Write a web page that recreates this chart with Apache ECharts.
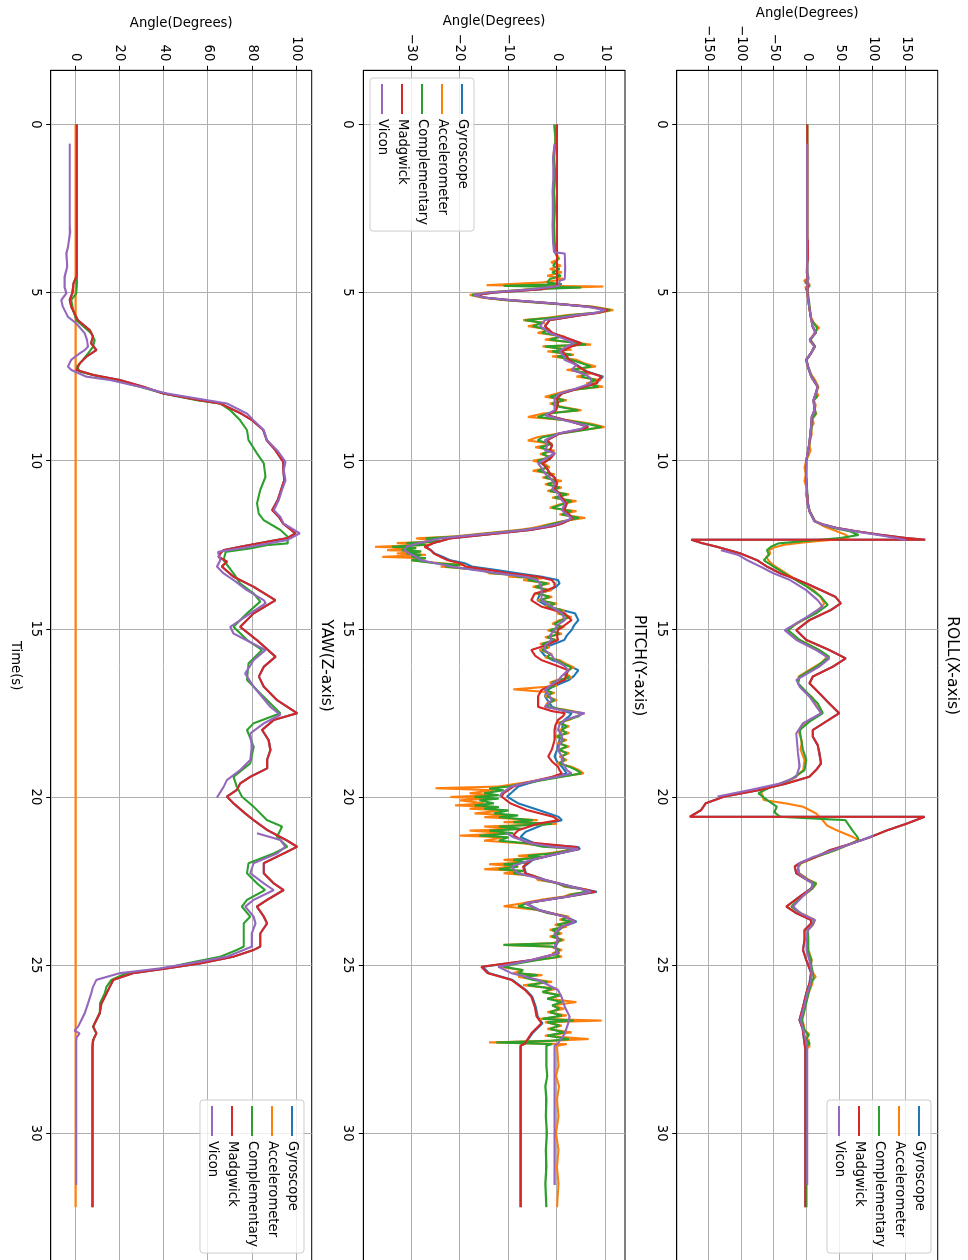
<!DOCTYPE html>
<html>
<head>
<meta charset="utf-8">
<title>IMU orientation estimates</title>
<script src="https://cdn.jsdelivr.net/npm/echarts@6/dist/echarts.min.js"></script>
<style>
  html, body { margin: 0; padding: 0; width: 968px; height: 1260px; overflow: hidden; background: #fff; }
  /* The figure is laid out landscape (1260 x 968) and turned a quarter clockwise onto the portrait page. */
  #chart {
    position: absolute; left: 0; top: 0;
    width: 1260px; height: 968px;
    transform-origin: 0 0;
    transform: rotate(90deg) translateY(-968px);
  }
</style>
</head>
<body>
<div id="chart"></div>
<script>
// ---------- data: [time (s), angle (deg)] ----------
const seriesNames = ['Gyroscope', 'Accelerometer', 'Complementary', 'Madgwick', 'Vicon'];
const seriesColors = ['#1f77b4', '#ff7f0e', '#2ca02c', '#d62728', '#9467bd'];
const panelTitles = ['ROLL(X-axis)', 'PITCH(Y-axis)', 'YAW(Z-axis)'];

const timeTicks = [0, 5, 10, 15, 20, 25, 30];
const rollTicks = [-150, -100, -50, 0, 50, 100, 150];
const pitchTicks = [-30, -20, -10, 0, 10];
const yawTicks = [0, 20, 40, 60, 80, 100];

// ROLL
const rollMadgwick = [[0,0],[3.4,0],[3.5,1],[4.0,1],[4.1,0],[4.6,0],[4.8,1],[5.0,0],[5.5,3.5],[6.0,8],[6.2,13],[6.4,4],[6.6,11],[6.8,6],[7.0,-1.5],[7.2,1],[7.5,6],[7.8,16],[8.0,13],[8.2,9.5],[8.5,11],[8.7,7],[9.0,6],[9.5,3],[10,-1.5],[10.5,-1.5],[11,0],[11.3,1],[11.5,3.5],[11.8,11],[11.9,25],[12.0,45],[12.1,75],[12.2,110],[12.3,150],[12.35,179],[12.35,-176],[12.45,-160],[12.56,-137],[12.76,-101],[12.96,-76],[13.15,-61],[13.35,-41],[13.5,-20],[13.65,-1.5],[13.85,21],[14.05,43],[14.24,51],[14.44,36],[14.74,3.5],[15.04,-16.5],[15.33,-1.5],[15.63,33.5],[15.88,58.5],[16.13,38.5],[16.42,8.5],[16.62,3.5],[16.92,18.5],[17.22,33.5],[17.51,48.5],[17.76,28.5],[18.01,8.5],[18.21,8.5],[18.46,16],[18.7,18.5],[19.0,21],[19.2,13.5],[19.4,3],[19.6,-31.5],[19.79,-71.5],[19.99,-126],[20.19,-154],[20.39,-161],[20.59,-178],[20.59,178],[20.8,150],[21.0,120],[21.2,95],[21.4,65],[21.58,35],[21.78,13.5],[21.97,-11.5],[22.07,-19],[22.27,-16.5],[22.47,0],[22.57,9],[22.72,6],[22.96,-11],[23.26,-31.5],[23.46,-16],[23.66,6],[23.76,6],[23.96,-4],[24.25,-4],[24.55,-6.5],[24.85,-1.5],[25.24,6],[25.54,3.5],[25.84,-1.5],[26.24,-6.5],[26.63,-11.5],[26.93,-6.5],[27.33,-4],[27.5,-3],[32.2,-3]];
const rollGyroscope = rollMadgwick;
const rollAccelerometer = [[0,0],[3.5,0],[4.0,0.5],[4.4,-1],[4.55,2],[4.65,-5],[4.75,4],[4.85,-3],[4.95,1],[5.1,0.5],[5.3,2],[5.5,4],[5.7,5],[5.9,10],[6.05,18],[6.15,12],[6.3,8],[6.45,4],[6.6,12],[6.75,7],[6.9,3],[7.0,-2],[7.2,1],[7.4,5],[7.6,12],[7.8,17],[7.95,14],[8.05,17],[8.2,10],[8.35,13],[8.5,11],[8.6,14],[8.75,8],[8.9,10],[9.0,6],[9.2,7],[9.5,3],[9.7,5],[10,-1.5],[10.2,-4],[10.4,-2],[10.6,-4],[10.8,-1],[11.0,-2],[11.3,2],[11.5,3.5],[11.8,12],[11.95,25],[12.1,45],[12.2,58],[12.28,63],[12.35,40],[12.42,0],[12.5,-35],[12.58,-50],[12.66,-58],[12.76,-56],[12.86,-62],[12.96,-59],[13.1,-52],[13.25,-40],[13.45,-24],[13.65,-8],[13.85,10],[14.05,20],[14.25,26],[14.45,16],[14.7,-3],[14.9,-20],[15.04,-30],[15.2,-24],[15.4,-5],[15.6,15],[15.83,30],[16.0,22],[16.2,5],[16.42,-13],[16.62,-14],[16.85,-4],[17.05,8],[17.3,14],[17.51,22],[17.7,6],[17.9,-8],[18.1,-12],[18.35,-8],[18.6,-10],[18.9,-4],[19.2,-6],[19.45,-20],[19.6,-40],[19.79,-71],[19.95,-68],[20.09,-66],[20.2,-30],[20.29,-6.5],[20.49,13.5],[20.69,23.5],[20.85,30],[20.98,43.5],[21.18,68],[21.28,78],[21.4,65],[21.58,43],[21.78,14],[21.97,-9],[22.1,-14],[22.27,-12],[22.47,3],[22.57,14],[22.72,8],[22.96,-7],[23.26,-24],[23.46,-9],[23.66,12],[23.8,9],[23.96,1],[24.25,2],[24.55,2],[24.85,7],[25.0,5],[25.24,9],[25.35,13],[25.45,7],[25.54,8],[25.84,2],[26.24,-3],[26.5,-6],[26.63,-8],[26.8,-5],[26.93,-4],[27.05,3],[27.15,-2],[27.25,3],[27.33,-1],[27.4,4],[27.5,-1],[28,-1],[32.2,-1]];
const rollComplementary = [[0,0],[4.4,0],[4.5,1],[4.6,2],[4.7,-3],[4.8,4],[4.9,-2],[5.0,1],[5.5,4],[5.8,6],[6.05,15],[6.2,13],[6.4,5],[6.6,12],[6.8,6],[7.0,-1],[7.2,1.5],[7.5,7],[7.8,16],[8.0,13],[8.1,15],[8.2,10],[8.5,12],[8.6,13],[8.75,8],[9.0,7],[9.5,3.5],[10,-1],[10.3,-2],[10.5,-1.5],[11,0.5],[11.3,1],[11.5,4],[11.8,12],[11.9,22],[12.0,40],[12.1,65],[12.21,78],[12.3,50],[12.4,-10],[12.46,-44],[12.56,-55],[12.66,-61],[12.8,-58],[12.96,-66],[13.15,-51],[13.45,-26],[13.75,0],[14.05,21],[14.29,31],[14.54,13.5],[14.84,-16.5],[15.04,-29],[15.33,-11.5],[15.63,18.5],[15.83,33.5],[16.13,13.5],[16.42,-11.5],[16.62,-14],[16.92,1],[17.22,16],[17.51,23.5],[17.76,3.5],[18.01,-11.5],[18.31,-9],[18.6,-6.5],[18.9,-1.5],[19.2,-4],[19.5,-26.5],[19.69,-54],[19.89,-74],[20.09,-61],[20.29,-46],[20.45,-50],[20.59,-41],[20.69,58],[20.98,68],[21.18,76],[21.28,78],[21.4,65],[21.58,43],[21.78,13.5],[21.97,-10],[22.1,-14],[22.27,-13],[22.47,2],[22.57,13.5],[22.72,8],[22.96,-8],[23.26,-24],[23.46,-10],[23.66,11],[23.8,8],[23.96,1],[24.25,1],[24.55,1],[24.85,6],[25.0,6],[25.24,8.5],[25.4,10],[25.54,6],[25.84,2],[26.24,-3],[26.63,-8],[26.8,-6],[26.93,-4],[27.1,2],[27.2,-2],[27.33,4],[27.4,-1],[27.5,-1.5],[32.2,-1.5]];
const rollVicon = [[0.57,0],[4.4,0],[4.6,1],[4.8,0.5],[5.0,0],[5.5,3.5],[6.0,8],[6.2,13],[6.4,3.5],[6.6,11],[6.8,6],[7.0,-1.5],[7.2,1],[7.5,6],[7.8,16],[8.0,13],[8.2,9.5],[8.5,11],[8.7,7],[9.0,6],[9.5,3],[10,-1.5],[10.5,-1.5],[11,0],[11.3,1],[11.5,3.5],[11.8,11],[11.9,24],[12.0,43],[12.1,72],[12.2,105],[12.3,135],[12.36,149],[12.5,null],[12.66,-131],[12.8,-105],[12.96,-91],[13.15,-71],[13.35,-51],[13.55,-26],[13.85,-1.5],[14.15,16],[14.34,23.5],[14.64,0],[15.04,-34],[15.33,-16.5],[15.63,13.5],[15.88,33.5],[16.13,18],[16.52,-16.5],[16.72,-11.5],[17.02,3.5],[17.51,21],[17.81,-6.5],[18.11,-16.5],[18.7,-14],[19.1,-11.5],[19.4,-16.5],[19.6,-41],[19.79,-86],[19.99,-136],[20.5,null],[21.15,100],[21.28,83],[21.58,40],[21.78,10],[21.97,-12],[22.1,-14],[22.27,-13],[22.47,0],[22.57,9],[22.72,6],[22.96,-7],[23.26,-21.5],[23.46,-10],[23.66,11],[23.8,8],[23.96,1],[24.25,-1],[24.55,-1],[24.85,3],[25.24,7],[25.54,5],[25.84,0],[26.24,-5],[26.63,-10],[26.93,-6],[27.33,-1],[27.5,0],[31.54,0]];

// PITCH
const pitchGyroscope = [[0,0],[4.8,0],[4.9,-3],[5.0,-13],[5.07,-16.5],[5.15,-15],[5.22,-10],[5.32,-1],[5.42,6.5],[5.52,10.7],[5.6,8.7],[5.67,5],[5.82,-1.5],[6.0,-2.5],[6.2,-1],[6.35,2],[6.51,5],[6.6,3],[6.75,1],[6.9,2],[7.0,2.5],[7.2,4.6],[7.35,6.2],[7.5,9.5],[7.6,8.7],[7.7,8.2],[7.85,4.5],[8.0,1],[8.15,0],[8.3,0.2],[8.5,-0.2],[8.65,-2],[8.8,2],[8.99,6.4],[9.05,5.5],[9.19,0.5],[9.39,-2],[9.55,-1],[9.69,-1.5],[9.78,-0.5],[9.95,-1.5],[10.08,-3],[10.25,-2],[10.38,-1.5],[10.5,-0.5],[10.68,0],[10.85,-0.5],[10.97,0.5],[11.1,1],[11.27,2],[11.47,1.5],[11.6,2.5],[11.72,3.2],[11.87,1],[11.95,-1],[12.06,-5.5],[12.16,-12],[12.25,-18],[12.31,-22],[12.45,-25.5],[12.56,-27],[12.66,-26],[12.76,-25.2],[12.86,-23.5],[12.96,-22],[13.05,-19],[13.15,-17.5],[13.25,-12.5],[13.35,-8],[13.45,-3.2],[13.55,0.2],[13.65,0.5],[13.75,-0.2],[13.85,-1.5],[13.95,-3.5],[14.15,-4],[14.34,-1.8],[14.54,3.7],[14.74,4.4],[14.9,3.5],[15.04,3],[15.2,2],[15.33,1.5],[15.5,-1.5],[15.63,-3.5],[15.8,-2.5],[15.93,-1],[16.1,2.5],[16.23,4.4],[16.4,3.5],[16.52,2.5],[16.7,-0.5],[16.82,-2],[17.0,-2.5],[17.12,-2],[17.32,-1],[17.45,1.5],[17.51,3],[17.6,2.5],[17.71,1.5],[17.85,1.2],[18.01,1],[18.15,0.5],[18.31,0.5],[18.45,0.2],[18.6,0],[18.8,-0.5],[18.95,0],[19.1,1],[19.2,1.5],[19.3,2],[19.4,-0.5],[19.5,-3.5],[19.6,-6],[19.69,-8],[19.89,-9.5],[19.99,-10.3],[20.19,-8],[20.39,-3.8],[20.59,0.3],[20.69,1],[20.84,-3.1],[21.04,-6.5],[21.19,-7.5],[21.39,-4.5],[21.49,4.4],[21.55,4.7],[21.68,0.5],[21.87,-5],[22.07,-6.8],[22.27,-6.4],[22.47,-2.3],[22.67,3.2],[22.82,8.2],[22.96,2.5],[23.16,-6.4],[23.36,-3.7],[23.56,1.8],[23.71,4],[23.86,1.2],[24.06,-0.3],[24.25,0.4],[24.45,-0.3],[24.65,0.4],[24.85,-5],[25.05,-15.3],[25.24,-14],[25.44,-9.2],[25.74,-6.4],[25.94,-5.1],[26.24,-4.4],[26.53,-4],[26.73,-3],[27.03,-5.1],[27.33,-6.5],[27.4,-7.5],[32.2,-7.5]];
const pitchAccelerometer = [[0,-0.6],[0.5,-0.3],[1,-0.8],[1.5,-0.4],[2,-0.7],[2.5,-0.4],[3,-0.8],[3.5,-0.5],[3.8,-0.3],[4.0,0.5],[4.1,-1.2],[4.2,0.8],[4.3,-1.5],[4.4,1],[4.5,-2],[4.6,1.5],[4.7,-3],[4.78,-14.5],[4.82,9.5],[4.88,-4],[4.95,-10],[5.0,-15],[5.07,-18],[5.15,-15.5],[5.22,-11],[5.32,-2],[5.42,7.5],[5.52,11.6],[5.6,8.5],[5.67,2],[5.75,-2],[5.82,-7],[5.9,-2.5],[6.0,-6],[6.1,-1.5],[6.2,-4],[6.3,1.5],[6.4,-2.5],[6.5,4.5],[6.55,7],[6.6,-3],[6.7,3],[6.75,-2],[6.85,3.5],[6.9,-1],[7.0,4],[7.1,5.5],[7.2,8],[7.3,2],[7.4,7],[7.5,4],[7.6,9],[7.7,6],[7.8,9.5],[7.9,2.5],[8.0,0],[8.1,-2.5],[8.2,2],[8.3,-1.5],[8.4,1],[8.5,5],[8.6,-3],[8.7,-6],[8.8,2.5],[8.9,7],[9.0,9.8],[9.1,4.5],[9.2,0],[9.3,-4],[9.4,-6],[9.5,-1],[9.6,-4.5],[9.7,-0.5],[9.8,-3.5],[9.9,-1],[10.0,-5],[10.1,-2.5],[10.2,-1.5],[10.3,-5],[10.4,-0.5],[10.5,-3],[10.6,1],[10.7,-2.5],[10.8,1],[10.9,-2],[11.0,2.5],[11.1,-1],[11.2,4],[11.3,0.5],[11.4,-1.5],[11.5,4],[11.6,0.5],[11.7,5.8],[11.8,1],[11.9,-2],[12.0,-5],[12.06,-8],[12.16,-15],[12.25,-21],[12.31,-29],[12.4,-24],[12.45,-33],[12.5,-26],[12.56,-37.5],[12.6,-29],[12.66,-35],[12.7,-28],[12.76,-33],[12.8,-27],[12.86,-36],[12.9,-27],[12.96,-30],[13.05,-24],[13.1,-19],[13.15,-24],[13.25,-15],[13.35,-14],[13.4,-8],[13.45,-10],[13.5,-3],[13.55,-7],[13.65,-1.5],[13.75,-5],[13.85,-1],[13.95,-4.5],[14.05,-1],[14.15,-4],[14.25,0],[14.34,-2.5],[14.45,1.5],[14.54,0],[14.65,3],[14.74,0.5],[14.85,-1],[14.95,1.5],[15.04,-2],[15.15,1],[15.25,-2.5],[15.33,0],[15.45,-3.5],[15.55,-1.5],[15.63,-3.5],[15.75,-1],[15.85,-2.5],[15.93,0.5],[16.05,2],[16.15,3.5],[16.23,2],[16.35,2],[16.45,3],[16.52,0],[16.6,-1.5],[16.7,0],[16.8,-9],[16.9,-0.5],[17.0,-2.5],[17.12,0],[17.2,-2],[17.32,-2.5],[17.4,1.5],[17.51,5.5],[17.6,4],[17.71,2.5],[17.8,0],[17.9,2.5],[18.01,0.5],[18.1,2.5],[18.2,-0.5],[18.31,2],[18.4,0],[18.5,2.5],[18.6,0],[18.7,2.5],[18.8,0.5],[18.9,2],[19.0,0],[19.1,3],[19.2,4.5],[19.3,5.5],[19.4,0.5],[19.5,-3.5],[19.6,-8],[19.69,-12],[19.74,-25],[19.8,-13],[19.89,-18],[19.95,-13],[20.0,-22],[20.05,-14],[20.1,-20],[20.19,-15],[20.25,-21],[20.3,-13],[20.35,-18],[20.4,-11],[20.49,-17],[20.55,-9],[20.6,-15],[20.69,-4],[20.75,-11],[20.8,0],[20.88,-15],[20.95,-8],[21.0,-18],[21.08,-10],[21.15,-20],[21.2,-11],[21.3,-15],[21.38,-7],[21.48,-2],[21.53,3.5],[21.6,1.5],[21.68,-2],[21.75,-8],[21.8,-3],[21.87,-11],[21.95,-6],[22.0,-14],[22.07,-8],[22.15,-15],[22.2,-7],[22.27,-11],[22.35,-4.5],[22.47,-4],[22.55,0],[22.67,1.5],[22.75,6],[22.82,6.5],[22.9,2.5],[22.96,1.5],[23.05,-3],[23.16,-7],[23.25,-11],[23.36,-4],[23.45,-1.5],[23.56,2.5],[23.65,0.5],[23.71,3.5],[23.8,-0.5],[23.86,2],[23.95,-1.5],[24.06,1],[24.15,-1.5],[24.25,1.5],[24.35,-1],[24.4,-11],[24.45,-1.5],[24.55,1],[24.65,-1],[24.75,1],[24.85,-4.5],[24.95,-9],[25.05,-12],[25.15,-7],[25.24,-9],[25.3,-3],[25.35,-8],[25.44,-4],[25.5,-1],[25.6,-7],[25.7,0],[25.8,-3],[25.9,1],[26.0,-2],[26.1,4],[26.2,-1],[26.3,1.5],[26.4,-2],[26.5,2],[26.6,-3.5],[26.65,9.2],[26.7,-2.5],[26.8,1],[26.9,-2],[27.0,3],[27.1,-2.5],[27.2,6.5],[27.25,-1],[27.3,-14],[27.35,2],[27.4,0],[28,0.3],[28.3,-0.2],[28.6,0.4],[29,0],[29.5,0.3],[30,-0.2],[30.5,0.3],[31,0],[31.5,0.3],[32.2,0]];
const pitchComplementary = [[0,-0.5],[0.5,-0.3],[1,-0.6],[1.5,-0.4],[2,-0.6],[2.5,-0.5],[3,-0.6],[3.5,-0.5],[3.8,-0.4],[4.0,0.2],[4.2,-0.8],[4.3,0.5],[4.4,-1],[4.5,0.8],[4.6,-1.5],[4.7,-2],[4.75,1],[4.8,-11],[4.85,5],[4.9,-5],[5.0,-14],[5.07,-17.5],[5.15,-15],[5.22,-11],[5.32,-2],[5.42,7],[5.52,11],[5.6,8],[5.67,3],[5.75,-1],[5.82,-6.6],[5.9,-3],[6.0,-5],[6.1,-2],[6.2,-3],[6.3,1],[6.4,-1.5],[6.5,4],[6.55,6],[6.6,-2.5],[6.7,2],[6.75,-1],[6.85,3],[6.9,0],[7.0,3],[7.1,5],[7.2,7],[7.3,3],[7.4,6],[7.5,5],[7.6,8],[7.7,6.5],[7.8,8.5],[7.9,3],[8.0,1],[8.1,-1.5],[8.2,1.5],[8.3,-1],[8.4,0.5],[8.5,4.4],[8.6,-2],[8.7,-4],[8.8,2],[8.9,6],[9.0,9.2],[9.1,5],[9.2,0.5],[9.3,-3],[9.4,-4],[9.5,-1],[9.6,-3.5],[9.7,-1.5],[9.8,-3],[9.9,-1.5],[10.0,-4],[10.1,-3],[10.2,-2],[10.3,-4],[10.4,-1],[10.5,-2.5],[10.6,0],[10.7,-2],[10.8,0.5],[10.9,-1.5],[11.0,2],[11.1,-0.5],[11.2,3],[11.3,1],[11.4,-1],[11.5,3],[11.6,1],[11.7,4.5],[11.8,1.5],[11.9,-1.5],[12.0,-4],[12.06,-7],[12.16,-14],[12.25,-20],[12.31,-27],[12.4,-24],[12.45,-31],[12.5,-27],[12.56,-34],[12.6,-29],[12.66,-32],[12.7,-28],[12.76,-31],[12.8,-28],[12.86,-30],[12.9,-27],[12.96,-30],[13.05,-25],[13.1,-20],[13.15,-23],[13.25,-16],[13.35,-13],[13.4,-9],[13.45,-8],[13.5,-4],[13.55,-6],[13.65,-2],[13.75,-4.5],[13.85,-2],[13.95,-4],[14.05,-1.5],[14.15,-3.5],[14.25,-0.5],[14.34,-2],[14.45,1],[14.54,0.5],[14.65,2.5],[14.74,1],[14.85,-0.5],[14.95,1],[15.04,-1.5],[15.15,0.5],[15.25,-2],[15.33,-0.5],[15.45,-3],[15.55,-2],[15.63,-3],[15.75,-1.5],[15.85,-2],[15.93,0],[16.05,1.5],[16.15,3],[16.23,2.5],[16.35,1.5],[16.45,2.5],[16.52,0.5],[16.6,-1],[16.7,-0.5],[16.8,-2.5],[16.9,-1],[17.0,-2],[17.12,-0.5],[17.2,-1.5],[17.32,-2],[17.4,1],[17.51,5],[17.6,4.5],[17.71,2],[17.8,0.5],[17.9,2],[18.01,1],[18.1,2],[18.2,0],[18.31,1.5],[18.4,0.5],[18.5,2],[18.6,0.5],[18.7,2],[18.8,1],[18.9,1.5],[19.0,0.5],[19.1,2.5],[19.2,4],[19.3,5],[19.4,1],[19.5,-3],[19.6,-7],[19.69,-10],[19.75,-14],[19.8,-11],[19.89,-15],[19.95,-12],[20.0,-17],[20.05,-12],[20.1,-16],[20.19,-13],[20.25,-17],[20.3,-12],[20.35,-15],[20.4,-10],[20.49,-13],[20.55,-8],[20.6,-12],[20.69,-5],[20.75,-9],[20.8,-1],[20.88,-12],[20.95,-7],[21.0,-14],[21.08,-9],[21.15,-16],[21.2,-10],[21.3,-12],[21.38,-6],[21.48,-3],[21.53,3],[21.6,2],[21.68,-1],[21.75,-6],[21.8,-3],[21.87,-9],[21.95,-6],[22.0,-11],[22.07,-8],[22.15,-12],[22.2,-7],[22.27,-9],[22.35,-5],[22.47,-3],[22.55,-0.5],[22.67,2],[22.75,5.5],[22.82,6],[22.9,3],[22.96,2],[23.05,-2],[23.16,-6],[23.25,-8],[23.36,-4],[23.45,-2],[23.56,2],[23.65,1],[23.71,3],[23.8,0],[23.86,1.5],[23.95,-1],[24.06,0.5],[24.15,-1],[24.25,1],[24.35,-0.5],[24.4,-11],[24.45,-1],[24.55,0.5],[24.65,-0.5],[24.75,0.5],[24.85,-4],[24.95,-8],[25.05,-11],[25.15,-7],[25.24,-8],[25.3,-4],[25.35,-7],[25.44,-5],[25.5,-2],[25.6,-6],[25.7,-1],[25.8,-3],[25.9,0.5],[26.0,-2],[26.1,1],[26.2,-1],[26.3,0.5],[26.4,-1.5],[26.5,1],[26.6,-3],[26.65,3.5],[26.7,-2],[26.8,0.5],[26.9,-1.5],[27.0,1.5],[27.1,-2],[27.2,2.5],[27.25,-1],[27.3,-12.5],[27.35,-1],[27.4,-2.2],[28,-2.2],[28.3,-2],[28.6,-2.4],[29,-2.2],[29.5,-2.3],[30,-2.1],[30.5,-2.3],[31,-2.2],[31.5,-2.4],[32.2,-2.2]];
const pitchMadgwick = [[0,0],[4.8,0],[4.9,-3],[5.0,-13],[5.07,-16.5],[5.15,-15],[5.22,-10],[5.32,-1],[5.42,6.5],[5.52,10.5],[5.6,8.5],[5.67,5],[5.82,-1.5],[6.0,-2.5],[6.2,-1],[6.35,2],[6.51,5],[6.6,3],[6.75,1],[6.9,2],[7.0,2.5],[7.2,4.4],[7.35,6],[7.5,9.2],[7.6,8.5],[7.7,8],[7.85,4.5],[8.0,1],[8.15,0],[8.3,0.2],[8.5,-0.2],[8.65,-2],[8.8,2],[8.99,6.4],[9.05,5.5],[9.19,0.5],[9.39,-2],[9.55,-1],[9.69,-1.5],[9.78,-0.5],[9.95,-1.5],[10.08,-3],[10.25,-2],[10.38,-1.5],[10.5,-0.5],[10.68,0],[10.85,-0.5],[10.97,0.5],[11.1,1],[11.27,2],[11.47,1.5],[11.6,2.5],[11.72,3.2],[11.87,1],[11.95,-1],[12.06,-5.5],[12.16,-12],[12.25,-18],[12.31,-22],[12.45,-25.5],[12.56,-27.3],[12.66,-26],[12.76,-25.4],[12.86,-24],[12.96,-22.5],[13.05,-20],[13.15,-18.8],[13.25,-14],[13.35,-10],[13.45,-3.9],[13.55,-1.1],[13.65,-0.5],[13.75,-0.5],[13.85,-2],[13.95,-4.6],[14.15,-5.3],[14.34,-3.2],[14.54,1.6],[14.74,3],[14.9,1.5],[15.04,0.2],[15.2,0],[15.33,0.2],[15.5,-2.5],[15.63,-5.3],[15.8,-4.5],[15.93,-3.2],[16.1,0],[16.23,2.3],[16.4,1.8],[16.52,1.6],[16.7,-1.5],[16.82,-3.2],[17.0,-3.9],[17.12,-3.9],[17.32,-3.9],[17.45,-1],[17.51,1.6],[17.6,1.2],[17.71,0.2],[17.85,-0.3],[18.01,-0.5],[18.15,-0.5],[18.31,-0.5],[18.45,-0.8],[18.6,-1.1],[18.8,-1.8],[18.95,-1],[19.1,0.2],[19.2,0.5],[19.3,1],[19.4,-1],[19.5,-4],[19.6,-7],[19.69,-9],[19.89,-11],[19.99,-11.4],[20.19,-9.6],[20.39,-6.2],[20.59,-0.8],[20.69,0.3],[20.79,-3.8],[20.99,-8],[21.14,-9],[21.34,-6.5],[21.49,3.9],[21.55,4.4],[21.68,0.3],[21.87,-5.3],[22.07,-7],[22.27,-6.6],[22.47,-2.5],[22.67,3],[22.82,7.8],[22.96,2.3],[23.16,-6.6],[23.36,-3.9],[23.56,1.6],[23.71,3.7],[23.86,1],[24.06,-0.5],[24.25,0.2],[24.45,-0.5],[24.65,0.2],[24.85,-5.3],[25.05,-15.6],[25.24,-14.3],[25.44,-9.4],[25.74,-6.6],[25.94,-5.3],[26.24,-4.6],[26.53,-4.2],[26.73,-3.2],[27.03,-5.3],[27.33,-6.6],[27.4,-7.5],[32.2,-7.5]];
const pitchVicon = [[0.57,-0.5],[1.0,-0.8],[1.5,-0.7],[2.0,-0.9],[2.5,-0.8],[3.0,-0.9],[3.5,-0.8],[3.8,-0.6],[3.84,1.6],[4.3,1.7],[4.6,1.6],[4.65,0.5],[4.8,0.5],[4.9,-5],[5.0,-14],[5.07,-17.2],[5.15,-15],[5.22,-10],[5.32,-1],[5.42,6],[5.52,10],[5.6,8],[5.67,4],[5.82,-2.5],[6.0,-3.5],[6.2,-1.5],[6.35,1],[6.5,3.5],[6.6,2],[6.75,0.5],[6.9,1.5],[7.0,1.5],[7.15,4],[7.3,3],[7.45,6],[7.55,7],[7.7,7],[7.85,4],[8.0,0.5],[8.15,-0.5],[8.3,-0.5],[8.5,-0.5],[8.65,-2.5],[8.8,1.5],[8.95,6],[9.05,5],[9.19,0.3],[9.39,-2.5],[9.55,-2],[9.69,-2.5],[9.78,-0.5],[9.95,-2.5],[10.08,-3.9],[10.25,-3],[10.38,-2.5],[10.5,-1.5],[10.68,-0.5],[10.85,-1],[10.97,0.3],[11.1,0.5],[11.27,1.6],[11.47,1],[11.6,2],[11.72,3],[11.87,0.3],[11.95,-2],[12.06,-6.6],[12.16,-13.5],[12.25,-20],[12.31,-24],[12.45,-28.5],[12.56,-31],[12.66,-31.5],[12.76,-30.5],[12.86,-29],[12.96,-28],[13.05,-25],[13.15,-21.7],[13.25,-17],[13.35,-12],[13.45,-6.6],[13.55,-4],[13.75,-3.2],[13.95,-3.2],[14.15,-3.2],[14.34,-1.1],[14.54,1],[14.74,1.6],[14.9,0],[15.04,-0.5],[15.2,-1.5],[15.33,-1.1],[15.5,-2.5],[15.63,-2.5],[15.8,-1],[15.93,-0.5],[16.1,1.5],[16.23,2.3],[16.4,1],[16.52,0.3],[16.7,-1.5],[16.82,-2.5],[17.0,-1.5],[17.12,-1.1],[17.32,-2.5],[17.45,2],[17.51,5.7],[17.6,4],[17.71,1.6],[17.85,0.5],[18.01,0.2],[18.15,1],[18.31,1],[18.45,0.5],[18.6,0.2],[18.8,1],[18.95,1],[19.1,1.6],[19.2,2],[19.3,3],[19.4,0],[19.5,-3.9],[19.6,-7],[19.69,-9.4],[19.89,-11.4],[19.99,-11.8],[20.5,null],[21.07,-10.4],[21.2,-9],[21.38,-5.3],[21.48,-1],[21.55,4.4],[21.68,0.3],[21.87,-5.3],[22.07,-9.4],[22.27,-8],[22.47,-2.5],[22.67,3],[22.82,7],[22.96,2.3],[23.16,-6.6],[23.36,-3.9],[23.56,1.6],[23.71,3.7],[23.86,0.9],[24.06,-0.5],[24.25,0.2],[24.45,-0.5],[24.65,0.2],[24.85,-5.3],[25.05,-12.1],[25.24,-9.4],[25.44,-3.9],[25.74,0.2],[25.94,0.9],[26.24,1.6],[26.53,2.6],[26.73,2.3],[27.03,1.6],[27.33,0.2],[27.4,-0.5],[31.54,-0.5]];

// YAW
const yawMadgwick = [[0,0.5],[4.5,0.5],[4.73,-1],[5.02,-1.5],[5.22,-2.7],[5.42,-2],[5.82,1],[6.12,6.4],[6.31,7.9],[6.51,7],[6.71,9.4],[6.91,4.8],[7.11,1.8],[7.3,0.3],[7.45,7.9],[7.6,20],[7.8,30.6],[8.0,39.7],[8.2,56],[8.3,65.5],[8.6,75],[8.8,80],[9.09,85],[9.39,86.5],[9.69,90.5],[10.03,94],[10.28,94],[10.58,94.5],[10.87,93],[11.17,91.5],[11.47,89],[11.67,92],[11.87,94],[12.16,99.5],[12.3,96],[12.41,86.7],[12.56,74.5],[12.66,67],[12.76,65.5],[12.86,64.7],[13.0,68.5],[13.15,66.2],[13.45,71.5],[13.75,80.6],[14.15,90.5],[14.54,80.6],[14.94,74.5],[15.33,82],[15.83,90.5],[16.13,85.2],[16.42,83],[16.72,85.2],[17.12,91.2],[17.51,100.3],[17.71,89.7],[18.01,84.4],[18.31,87.4],[18.6,88.2],[18.9,86.7],[19.15,86.7],[19.4,79.1],[19.6,74.5],[19.79,73],[19.99,68.5],[20.19,71.5],[20.49,76.8],[20.69,80.6],[20.98,86.7],[21.28,95.3],[21.48,100.3],[21.68,94.2],[21.97,85.2],[22.27,85.2],[22.57,89.7],[22.77,94.2],[23.06,86.7],[23.26,82.1],[23.56,85.2],[23.76,86.7],[24.06,83.6],[24.45,83.6],[24.55,80.6],[24.75,71.5],[24.95,56.4],[25.1,41.2],[25.24,26.1],[25.44,17],[25.64,15.5],[25.84,14],[26.14,11.7],[26.43,10.9],[26.83,7.9],[27.03,9.4],[27.23,7.9],[27.43,7.6],[32.2,7.6]];
const yawGyroscope = yawMadgwick;
const yawAccelerometer = [[0,0],[32.2,0]];
const yawComplementary = [[0,0.5],[4.4,0.5],[4.73,0.6],[5.02,0.3],[5.22,-2],[5.5,-1.2],[5.82,0.3],[6.21,7],[6.41,8.6],[6.61,7.9],[6.81,5.6],[7.0,3.3],[7.2,0.6],[7.35,1.8],[7.6,17],[7.8,29],[8.0,39.7],[8.2,54.8],[8.3,65.5],[8.5,70],[8.8,74.5],[9.09,77.6],[9.39,78.3],[9.78,82.1],[10.08,85.2],[10.48,86],[10.87,83.6],[11.27,82.1],[11.57,82.9],[11.77,85.2],[12.06,92.7],[12.26,96],[12.46,96],[12.51,86.7],[12.61,79],[12.71,68],[12.96,67],[13.15,69.2],[13.35,71.5],[13.65,74.5],[13.95,80.6],[14.19,83.6],[14.54,77.6],[14.94,71.5],[15.33,77.6],[15.63,84.4],[16.03,78.3],[16.52,77.6],[16.92,83.6],[17.32,89.7],[17.51,92.7],[17.81,80.6],[18.01,77.6],[18.5,80.6],[19.0,79.1],[19.4,71.5],[19.69,73],[19.99,75.3],[20.29,80.6],[20.69,86.7],[20.88,93.5],[21.18,91.2],[21.48,95.8],[21.68,89.7],[21.97,78.3],[22.27,77.6],[22.57,82.1],[22.77,85.8],[23.06,77.6],[23.26,75.3],[23.56,79.1],[23.76,76.1],[24.06,76.1],[24.45,76.1],[24.55,73],[24.75,65.5],[24.95,50.3],[25.1,40],[25.24,23],[25.44,16.2],[25.64,14],[25.84,13.2],[26.14,11],[26.43,10.9],[26.83,7.9],[27.03,9.4],[27.23,7.9],[27.43,7.6],[32.2,7.6]];
const yawVicon = [[0.57,-2.7],[3.0,-2.7],[3.2,-2.5],[3.64,-3.5],[3.84,-4.2],[4.23,-3.8],[4.53,-5],[4.83,-5],[5.02,-4.2],[5.22,-6.5],[5.42,-5.8],[5.72,-3.5],[5.92,0.3],[6.21,4.1],[6.41,5.1],[6.61,5.6],[6.71,4.1],[6.81,1.8],[7.0,-2],[7.2,-3.5],[7.3,-2],[7.5,4.8],[7.6,15.5],[7.8,29],[8.0,41.2],[8.2,59.4],[8.3,68.5],[8.6,77.6],[8.8,80.6],[9.09,85.2],[9.39,86.7],[9.69,91.2],[10.03,95],[10.28,94.2],[10.58,95],[10.87,93.5],[11.17,92],[11.47,89.7],[11.67,92.7],[11.87,94.2],[12.16,101.5],[12.36,95.8],[12.56,79],[12.71,64.5],[12.96,65.5],[13.15,64],[13.35,67],[13.55,71.5],[13.85,77.6],[14.15,85.2],[14.24,86],[14.54,79.1],[14.94,70],[15.14,71.5],[15.63,86],[15.93,80.6],[16.33,76.8],[16.72,80.6],[17.32,88.2],[17.56,92.7],[17.81,85.2],[18.11,79.1],[18.5,79.8],[18.9,79.1],[19.2,74.5],[19.5,68.5],[19.7,67],[20.02,64],[20.5,null],[21.08,82.1],[21.28,92.7],[21.48,95],[21.68,91.2],[21.97,80.6],[22.27,79.1],[22.57,85.2],[22.77,89.7],[23.06,80.6],[23.26,76.8],[23.56,80.6],[23.76,81.4],[24.06,79.8],[24.45,79.8],[24.55,76.1],[24.75,68.5],[24.95,51.8],[25.1,38],[25.24,20],[25.44,9.4],[25.64,7.9],[25.84,7.1],[26.14,5.6],[26.43,4.1],[26.83,1.1],[26.95,-0.5],[27.03,1.8],[27.15,0.5],[27.23,0.3],[31.54,0.3]];

const panelData = [
  [rollGyroscope, rollAccelerometer, rollComplementary, rollMadgwick, rollVicon],
  [pitchGyroscope, pitchAccelerometer, pitchComplementary, pitchMadgwick, pitchVicon],
  [yawGyroscope, yawAccelerometer, yawComplementary, yawMadgwick, yawVicon]
];

// ---------- layout ----------
const FONT = '"DejaVu Sans", sans-serif';
const TXT = '#000000';
const plotLeft = 70.3, plotWidth = 1190.7;
const plotTops = [30.3, 343, 656.3];
const plotHeights = [261, 261.7, 261];
const timeRange = [-1.61, 33.8];
const angleRanges = [[-198, 198], [-39.9, 14.0], [-11.3, 106.9]];
const angleTicks = [rollTicks, pitchTicks, yawTicks];
const angleNameGaps = [49, 40.3, 38.5];
const legendSpots = [[1100, 37], [78, 494], [1100, 664]];

const minus = v => String(v).replace('-', '\u2212');
const spine = { color: '#000', width: 1 };
const gridLine = { color: '#b0b0b0', width: 1 };

const grids = [], xAxes = [], yAxes = [], series = [], legends = [], graphics = [];

for (let p = 0; p < 3; p++) {
  grids.push({ left: plotLeft, top: plotTops[p], width: plotWidth, height: plotHeights[p],
    containLabel: false, outerBoundsMode: 'none',
    show: true, borderColor: '#000', borderWidth: 1, backgroundColor: 'transparent' });

  xAxes.push({
    type: 'value', gridIndex: p, min: timeRange[0], max: timeRange[1],
    axisLine: { show: true, onZero: false, lineStyle: spine },
    axisTick: { show: true, customValues: timeTicks, length: 4.5, lineStyle: spine },
    axisLabel: { customValues: timeTicks, margin: 9, color: TXT, fontSize: 13.2, fontFamily: FONT, formatter: minus },
    splitLine: { show: true, lineStyle: gridLine },
    name: p === 2 ? 'Time(s)' : '', nameLocation: 'middle', nameGap: 27, nameMoveOverlap: false,
    nameTextStyle: { color: TXT, fontSize: 13.2, fontFamily: FONT, lineHeight: 16 }
  });

  yAxes.push({
    type: 'value', gridIndex: p, min: angleRanges[p][0], max: angleRanges[p][1],
    axisLine: { show: true, onZero: false, lineStyle: spine },
    axisTick: { show: true, customValues: angleTicks[p], length: 4.5, lineStyle: spine },
    axisLabel: { customValues: angleTicks[p], margin: 9, color: TXT, fontSize: 13.2, fontFamily: FONT, formatter: minus },
    splitLine: { show: true, lineStyle: gridLine },
    name: 'Angle(Degrees)', nameLocation: 'middle', nameGap: angleNameGaps[p], nameMoveOverlap: false,
    nameTextStyle: { color: TXT, fontSize: 13.2, fontFamily: FONT, lineHeight: 16 }
  });

  for (let s = 0; s < 5; s++) {
    series.push({
      type: 'line', name: seriesNames[s], xAxisIndex: p, yAxisIndex: p,
      data: panelData[p][s], showSymbol: false, symbol: 'none',
      connectNulls: false, clip: true,
      color: seriesColors[s], itemStyle: { color: seriesColors[s] },
      lineStyle: { color: seriesColors[s], width: 2.1 },
      emphasis: { disabled: true }
    });
  }

  legends.push({
    data: seriesNames, orient: 'vertical',
    left: legendSpots[p][0], top: legendSpots[p][1],
    icon: 'rect', itemWidth: 30, itemHeight: 2, itemGap: 6,
    padding: [5, 6, 5, 6],
    backgroundColor: 'rgba(255,255,255,0.8)', borderColor: '#cccccc', borderWidth: 1, borderRadius: 3,
    textStyle: { color: TXT, fontSize: 13.2, fontFamily: FONT, lineHeight: 14 },
    selectedMode: false
  });

  graphics.push({
    type: 'text', x: plotLeft + plotWidth / 2, y: plotTops[p] - 14.5,
    style: { text: panelTitles[p], fill: TXT, font: '15.5px ' + FONT,
      align: 'center', verticalAlign: 'middle', textAlign: 'center', textVerticalAlign: 'middle' }
  });
}

const chart = echarts.init(document.getElementById('chart'), null, { renderer: 'canvas' });
chart.setOption({
  animation: false,
  backgroundColor: '#ffffff',
  grid: grids, xAxis: xAxes, yAxis: yAxes,
  legend: legends, series: series, graphic: graphics
});
</script>
</body>
</html>
